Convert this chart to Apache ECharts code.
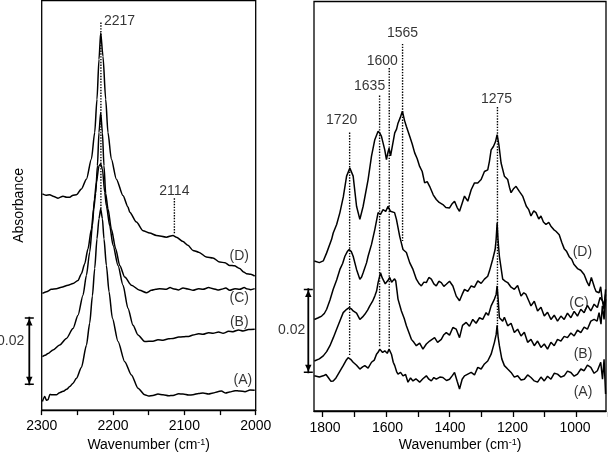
<!DOCTYPE html>
<html><head><meta charset="utf-8">
<script src="https://cdn.jsdelivr.net/npm/echarts/dist/echarts.min.js"></script>
<style>html,body{margin:0;padding:0;background:#fff}#c{width:608px;height:457px}</style>
</head><body><div id="c"></div>
<script>
// ---- Data (wavenumber cm-1, absorbance in units of 0.001) ----
const leftD = [[2299,63.4],[2294,63.0],[2288.8,63.1],[2283,62.6],[2277.1,62.1],[2270.1,62.7],[2265,62.4],[2260.7,62.4],[2256,63.0],[2251.4,63.1],[2244.3,64.8],[2237.3,67.7],[2230.3,73.6],[2225.7,81.4],[2222.5,91.1],[2219.7,102.8],[2217.3,110.6],[2214.1,103.7],[2210.3,91.1],[2207.1,81.4],[2202.4,73.6],[2195.3,67.7],[2186.1,62.9],[2179.0,59.5],[2176.6,58.0],[2167.2,55.1],[2158.0,52.6],[2148.6,51.9],[2139.2,51.2],[2125.2,50.7],[2115.9,51.2],[2111.2,50.7],[2101.9,49.4],[2095,48.3],[2087.9,46.8],[2080,46.3],[2069.2,44.9],[2060,44.6],[2050.5,43.4],[2043,43.2],[2036.5,42.4],[2030,42.3],[2022.5,41.5],[2017,40.5],[2013,40.0],[2007,39.8],[2001.4,39.3]];
const leftC = [[2299,34.2],[2293.4,34.7],[2286.4,35.4],[2279.4,35.6],[2272.4,36.0],[2263.1,36.6],[2256.1,37.1],[2249.1,38.0],[2244.3,40.0],[2239.7,42.9],[2235.1,47.3],[2230.3,53.1],[2227.1,59.0],[2224.3,63.5],[2221.9,71.6],[2219.7,81.4],[2217.3,87.2],[2214.9,81.4],[2212.7,71.6],[2210.3,63.5],[2207.1,59.0],[2202.3,53.1],[2196.3,47.3],[2190.6,42.4],[2183.6,39.0],[2174.2,36.6],[2162.6,35.1],[2153.2,34.4],[2146.2,35.1],[2140,35.4],[2134.6,35.6],[2125.2,35.4],[2120,35.9],[2115.9,35.6],[2108,35.2],[2101.9,35.8],[2095,35.5],[2087.9,35.1],[2080,35.6],[2073.9,35.4],[2066,35.9],[2059.8,35.6],[2053,35.2],[2048.1,35.4],[2042,35.8],[2036.5,35.1],[2029,35.6],[2022.5,35.4],[2016,35.9],[2013.0,35.6],[2007,35.3],[2001.4,35.6]];
const leftB = [[2299,15.7],[2295,16.1],[2291.2,16.6],[2284.2,17.6],[2274.8,19.1],[2265.4,21.0],[2256.1,23.9],[2249.1,27.8],[2242.1,33.7],[2237.3,39.5],[2232.7,46.3],[2228.9,54.1],[2226.1,61.9],[2223.3,66.8],[2219.7,71.6],[2217.3,72.1],[2214.9,70.7],[2211.7,63.9],[2209.3,59.9],[2204.7,54.1],[2200.0,48.3],[2193.0,42.4],[2186.0,36.6],[2179.0,29.8],[2172.0,24.9],[2165.0,22.0],[2155.6,20.1],[2144.0,20.2],[2137,20.6],[2129.9,20.5],[2122,20.9],[2115.9,21.0],[2108,21.4],[2101.9,21.5],[2094,21.6],[2087.9,22.0],[2080,22.4],[2073.9,22.2],[2066,22.7],[2059.8,22.5],[2052,22.9],[2045.8,22.5],[2038,23.1],[2031.8,23.0],[2024,23.5],[2017.8,23.2],[2010,23.6],[2001.4,23.7]];
const leftA = [[2299,2.5],[2295.8,4.0],[2293.5,2.9],[2291.2,3.0],[2288.5,4.6],[2286.4,4.5],[2279.4,4.5],[2275,5.1],[2270.1,5.5],[2265,6.1],[2260.7,6.9],[2256,7.9],[2251.4,9.3],[2244.3,12.5],[2237.3,19.0],[2232.7,25.5],[2228.9,33.5],[2225.7,41.5],[2222.5,50.2],[2219.7,56.1],[2217.3,59.0],[2214.9,56.1],[2212.7,50.2],[2209.3,42.4],[2205.6,34.7],[2200.9,26.9],[2193.0,20.1],[2183.6,14.2],[2174.2,10.3],[2165.0,6.4],[2155.6,4.5],[2150,4.1],[2144.0,4.3],[2137,4.7],[2129.9,4.5],[2122,4.2],[2115.9,4.3],[2108,4.8],[2101.9,4.7],[2094,4.4],[2087.9,4.5],[2080,4.9],[2073.9,5.0],[2066,4.7],[2059.8,5.0],[2053,5.4],[2048.1,5.6],[2042,5.0],[2036.5,5.3],[2029,5.7],[2022.5,5.6],[2015,5.4],[2008,5.9],[2001.4,5.8]];

const rightD = [[1825,35.4],[1810,35.0],[1798.2,35.4],[1788.0,37.3],[1773.1,40.5],[1768.3,42.0],[1758,44.0],[1748.2,46.8],[1738,50.5],[1728.1,55.4],[1718.3,57.3],[1708.4,55.4],[1698.2,48.3],[1688.3,45.2],[1678.4,48.3],[1663.5,54.6],[1653.3,60.1],[1643.4,64.0],[1633.5,66.0],[1628,65.5],[1623.4,64.8],[1613.5,61.6],[1608.4,59.3],[1604,61.0],[1600.6,62.0],[1596,60.2],[1593.4,60.5],[1583.5,65.6],[1578,66.5],[1573.7,67.9],[1567,69.2],[1560.5,70.7],[1554,68.5],[1548.5,67.1],[1543,66.8],[1538.6,64.8],[1531,63.0],[1523.6,60.9],[1516,59.5],[1508.7,57.7],[1501,56.5],[1493.7,53.8],[1486,54.1],[1478.7,53.0],[1468,51.0],[1458.7,49.9],[1450,49.2],[1438.9,48.7],[1430,48.0],[1418.9,47.9],[1411,48.9],[1403.9,49.5],[1396,48.0],[1388.9,47.1],[1381,49.0],[1374.0,50.7],[1364.1,49.5],[1353.9,52.2],[1344.0,53.8],[1334.1,53.8],[1324.0,54.6],[1314.1,56.5],[1304.2,56.9],[1299.1,58.9],[1294.0,61.6],[1287.1,62.4],[1281,63.5],[1276.0,65.2],[1270.7,62.8],[1264.1,58.5],[1254.2,55.4],[1244.3,54.6],[1239,52.8],[1234.1,51.5],[1226,52.5],[1219.2,53.0],[1209.3,51.8],[1199.4,50.7],[1188.3,48.3],[1181,47.5],[1174.3,46.0],[1166,47.2],[1159.3,46.8],[1151,45.3],[1144.3,46.0],[1137,44.6],[1129.3,44.0],[1121,44.5],[1114.4,43.6],[1106,42.8],[1099.4,42.4],[1089.5,41.6],[1082,39.8],[1074.6,38.3],[1067,37.6],[1059.6,36.4],[1052,35.8],[1045.5,34.6],[1034.7,33.6],[1025,33.2],[1014.7,32.2],[1005.7,30.4],[999.7,29.5],[993,31.5],[987.7,31.1],[983,29.0],[978.7,28.2],[969.8,27.9],[965,29.3],[960.8,26.4],[954.8,24.8],[950.3,27.5]];
const rightC = [[1825,21.6],[1813,22.0],[1803.0,22.4],[1795,23.0],[1788.0,24.0],[1778,26.2],[1768.3,28.7],[1758,30.9],[1748.2,33.4],[1740,34.8],[1733.2,36.5],[1726,37.6],[1720.4,38.1],[1714,37.6],[1708.4,36.5],[1698.2,33.4],[1688.3,31.1],[1683,31.6],[1678.4,32.6],[1668,35.0],[1663.5,36.5],[1653.3,39.3],[1643.4,42.8],[1633.5,46.8],[1626.3,46.4],[1618.6,47.5],[1610.5,47.1],[1603.6,48.3],[1596.4,47.1],[1590.4,47.5],[1584,46.8],[1578.4,45.2],[1568.6,41.2],[1558.7,38.1],[1548.5,37.4],[1538.6,35.0],[1528.7,33.4],[1518.6,31.1],[1510,30.0],[1503.6,29.5],[1496,30.4],[1488.6,30.3],[1481,31.5],[1473.6,31.1],[1466,30.0],[1458.7,29.5],[1451,30.6],[1443.7,30.3],[1436,29.4],[1428.7,29.9],[1418.9,30.6],[1408.9,29.5],[1398.8,27.1],[1388.9,26.0],[1381,27.5],[1374.0,28.7],[1364.1,28.2],[1353.9,29.5],[1344.0,29.2],[1334.1,30.7],[1324.0,30.1],[1314.1,31.1],[1304.2,31.8],[1299.1,33.0],[1289.2,35.8],[1282.0,38.1],[1279,40.5],[1276.0,44.4],[1273,40.0],[1269.2,36.5],[1259.3,31.1],[1251,30.6],[1244.3,30.3],[1234.1,29.2],[1224.3,28.7],[1214.4,29.6],[1204.2,27.1],[1196,27.9],[1189.2,27.5],[1181,26.0],[1174.3,24.8],[1164.4,25.9],[1154.5,23.6],[1144.3,24.5],[1134.4,22.4],[1124.6,23.3],[1114.4,21.6],[1104.5,22.6],[1094.6,21.2],[1084.4,22.4],[1074.6,21.6],[1064.7,23.1],[1054.5,22.0],[1044.6,23.5],[1034.7,22.4],[1024.6,24.0],[1014.7,23.2],[1004.8,24.9],[994.6,23.6],[984.7,25.2],[974.9,24.4],[966.7,26.8],[959.9,26.0],[954.8,24.0],[950.3,28.7]];
const rightB = [[1825,11.8],[1810,12.3],[1798.2,13.0],[1788,14.0],[1778.1,15.4],[1768,17.3],[1758.1,19.3],[1748,21.3],[1738.3,23.2],[1728,24.0],[1720.4,24.4],[1714,24.1],[1708.4,23.6],[1698.2,23.1],[1688.3,21.6],[1680,22.2],[1673.4,22.8],[1665,23.8],[1658.4,24.8],[1650,25.9],[1643.4,27.1],[1638,28.3],[1633.5,30.3],[1626.3,32.6],[1621,31.4],[1616.5,31.1],[1612,30.0],[1608.4,29.9],[1603,30.9],[1598.5,31.5],[1593,30.4],[1588.6,30.7],[1584,31.2],[1580.5,30.7],[1577,28.5],[1573.7,26.4],[1563.5,23.6],[1555,21.8],[1548.5,20.1],[1541,18.5],[1533.5,16.9],[1526,16.2],[1518.6,15.4],[1508.7,16.0],[1498.8,14.6],[1488.6,15.8],[1478.7,16.5],[1463.8,17.3],[1454.8,16.2],[1443.7,16.9],[1436,18.0],[1428.7,18.5],[1418.9,17.9],[1408.9,19.7],[1398.8,19.3],[1388.9,17.3],[1379.9,20.2],[1368.9,20.9],[1359.0,20.0],[1349.1,21.6],[1339.1,20.7],[1329.0,22.0],[1319.2,21.6],[1309.1,23.2],[1302.2,22.6],[1294.0,24.8],[1284.1,26.4],[1279,27.5],[1276.0,29.5],[1273,26.5],[1269.2,22.0],[1259.3,21.2],[1254.2,22.1],[1244.3,20.1],[1234.1,20.7],[1224.3,18.5],[1214.4,19.3],[1204.2,17.7],[1194.3,18.6],[1184.4,16.2],[1174.3,16.9],[1164.4,15.4],[1154.5,16.5],[1144.3,15.0],[1134.4,15.8],[1124.6,14.6],[1114.4,16.2],[1104.5,15.4],[1094.6,16.9],[1084.4,16.5],[1074.6,17.6],[1064.7,17.3],[1054.5,18.4],[1044.6,17.7],[1034.7,19.1],[1024.6,18.5],[1014.7,19.8],[1004.8,19.3],[994.6,21.2],[984.7,21.6],[975.7,21.2],[969.8,23.2],[964,20.5],[959.9,24.8],[954.8,21.6],[950.3,26.4]];
const rightA = [[1825,8.3],[1810,8.0],[1798.2,8.3],[1790,8.6],[1783.2,7.9],[1775,7.0],[1768.3,7.1],[1760,7.8],[1753.3,8.7],[1745,9.8],[1738.3,10.7],[1730,11.9],[1723.4,12.6],[1716,12.2],[1708.4,11.5],[1698.2,10.8],[1688.3,9.9],[1680,10.4],[1673.4,10.7],[1663.5,10.1],[1653.3,11.5],[1645,12.0],[1638.3,13.4],[1633,13.9],[1628.4,14.6],[1620,13.8],[1613.5,14.2],[1606,13.6],[1600.6,14.6],[1597,14.3],[1593.4,13.4],[1588,11.5],[1583.5,10.7],[1578,9.3],[1573.7,8.7],[1566,9.1],[1558.7,8.3],[1551,8.6],[1543.7,6.8],[1536,7.8],[1528.7,7.1],[1520,7.6],[1508.7,6.8],[1499,7.6],[1488.6,8.3],[1481,7.5],[1473.6,7.1],[1466,7.9],[1458.7,7.5],[1448,8.0],[1438.9,7.9],[1428,7.2],[1418.9,7.5],[1410,8.4],[1403.9,9.1],[1396,7.0],[1388.9,5.2],[1381,7.5],[1374.0,8.3],[1364,8.7],[1353.9,9.1],[1344.0,8.5],[1334.1,10.3],[1324.0,9.9],[1314.1,11.1],[1304.2,11.8],[1294.0,13.4],[1284.1,16.2],[1279,18.0],[1276.0,20.2],[1273,17.5],[1269.2,15.4],[1262,12.3],[1254.2,10.7],[1244.3,9.9],[1234.1,9.1],[1224.3,8.0],[1214.4,8.3],[1204.2,7.3],[1194.3,7.5],[1184.4,8.5],[1174.3,7.9],[1164.4,7.1],[1154.5,6.8],[1144.3,8.0],[1134.4,7.1],[1124.6,8.2],[1114.4,7.5],[1104.5,8.9],[1094.6,8.7],[1084.4,8.0],[1074.6,8.3],[1064.7,9.4],[1054.5,9.1],[1044.6,8.2],[1034.7,8.7],[1024.6,9.9],[1014.7,9.5],[1004.8,10.8],[994.6,10.3],[984.7,8.9],[974.9,9.5],[964.8,11.5],[959.5,7.5],[954.8,12.2],[950.3,4.0]];

const curveNames = ['(A)', '(B)', '(C)', '(D)'];
// peak markers: position (cm-1), label text, dotted-line top / bottom (absorbance x 0.001)
const leftPeakPos = [2217, 2114];
const leftPeakText = ['2217', '2114'];
const leftPeakTop = [113.6, 62.1];
const leftPeakBottom = [59.0, 51.6];
const rightPeakPos = [1719, 1629, 1600, 1560, 1275];
const rightPeakText = ['1720', '1635', '1600', '1565', '1275'];
const rightPeakTop = [65.7, 74.4, 80.9, 86.6, 71.7];
const rightPeakBottom = [13.0, 15.0, 15.0, 40.1, 19.8];
// axis ticks
const leftTickStep = 50;
const rightTickStep = 100;
const rightLabelStep = 200;
// scale bar: 0.02 absorbance
const scaleBarSize = 20;
const scaleBarText = '0.02';
const leftScaleBarStart = 7.7;
const rightScaleBarStart = 9.1;

// ---- Layout / style ----
const FONT = '"Liberation Sans", Arial, Helvetica, sans-serif';
const ink = '#000';
const leftCurveLabelAt = [[2018, 8.8], [2023, 25.7], [2023, 32.7], [2023, 45.2]];
const rightCurveLabelAt = [[1018, 4.4], [1018, 13.4], [1030, 25.4], [1020, 37.5]];
const leftPeakLabelStyle = [{position: 'right', distance: 3, offset: [0, -1]}, {position: 'top', distance: 0, offset: [0, 0]}];
const rightPeakLabelStyle = [[-8, -5], [-10, -2], [-7, 0], [0, -4], [-1, -1]].map(o => ({position: 'top', distance: 0, offset: o}));

const txt = {color: ink, fontSize: 14, fontFamily: FONT};
const axisName = {
  name: '{n|Wavenumber (cm}{s|-1}{n|)}',
  nameLocation: 'middle', nameGap: 27,
  nameTextStyle: {rich: {n: {fontSize: 14, fontFamily: FONT, color: ink}, s: {fontSize: 9, fontFamily: FONT, color: ink, verticalAlign: 'top'}}}
};

function curve(data, i, smooth) {
  return {type: 'line', xAxisIndex: i, yAxisIndex: i, data, symbol: 'none', smooth, smoothMonotone: 'x',
    lineStyle: {color: ink, width: 1.5}, silent: true, z: 3, animation: false};
}
function dotted(i, pos, top, bottom) {
  return {type: 'line', xAxisIndex: i, yAxisIndex: i, data: [[pos, top], [pos, bottom]], symbol: 'none',
    lineStyle: {color: ink, width: 1.4, type: [1.4, 1.4]}, silent: true, z: 4, animation: false};
}
function textPoints(xi, yi, items) {
  return {type: 'scatter', xAxisIndex: xi, yAxisIndex: yi, symbolSize: 0, silent: true, z: 5, animation: false,
    label: Object.assign({show: true, formatter: '{b}'}, txt), data: items};
}
const capPath = 'path://M0,0L10,0L10,1.6L0,1.6Z M5,1.6L8.6,9L1.4,9Z';
function scaleBar(i, start) {
  return {type: 'line', xAxisIndex: i, yAxisIndex: i, symbol: capPath, symbolSize: [9, 9], symbolKeepAspect: true,
    showSymbol: true, lineStyle: {color: ink, width: 1.8}, itemStyle: {color: ink}, silent: true, animation: false,
    data: [{value: [0.5, start], symbolRotate: 180, symbolOffset: [0, -4.5]}, {value: [0.5, start + scaleBarSize], symbolOffset: [0, 4.5]}]};
}

const series = [
  curve(leftA, 0, 0.25), curve(leftB, 0, 0.25), curve(leftC, 0, 0.25), curve(leftD, 0, 0.25),
  curve(rightA, 1, false), curve(rightB, 1, false), curve(rightC, 1, false), curve(rightD, 1, false),
  ...leftPeakPos.map((p, k) => dotted(0, p, leftPeakTop[k], leftPeakBottom[k])),
  ...rightPeakPos.map((p, k) => dotted(1, p, rightPeakTop[k], rightPeakBottom[k])),
  textPoints(0, 0, leftPeakPos.map((p, k) => ({name: leftPeakText[k], value: [p, leftPeakTop[k]], label: leftPeakLabelStyle[k]}))),
  textPoints(1, 1, rightPeakPos.map((p, k) => ({name: rightPeakText[k], value: [p, rightPeakTop[k]], label: rightPeakLabelStyle[k]}))),
  textPoints(0, 0, curveNames.map((n, k) => ({name: n, value: leftCurveLabelAt[k], label: {position: 'inside'}}))),
  textPoints(1, 1, curveNames.map((n, k) => ({name: n, value: rightCurveLabelAt[k], label: {position: 'inside'}}))),
  scaleBar(3, leftScaleBarStart), scaleBar(4, rightScaleBarStart),
  textPoints(3, 3, [{name: scaleBarText, value: [0.5, 20.7], label: {position: 'left', distance: 5}}]),
  textPoints(4, 4, [{name: scaleBarText, value: [0.5, 19.3], label: {position: 'left', distance: 3}}])
];

const hiddenY = {axisLine: {show: false}, axisTick: {show: false}, axisLabel: {show: false}, splitLine: {show: false}};
const axisLineStyle = {onZero: false, lineStyle: {color: ink, width: 1.3}};
const tickStyle = {show: true, length: 5, lineStyle: {color: ink, width: 1.3}};
const option = {
  animation: false,
  backgroundColor: '#fff',
  textStyle: {fontFamily: FONT},
  grid: [
    {left: 41.7, top: 0.7, width: 214, height: 411, show: true, borderColor: ink, borderWidth: 1.3, backgroundColor: 'transparent'},
    {left: 314, top: 1.5, width: 292, height: 410.5, show: true, borderColor: ink, borderWidth: 1.3, backgroundColor: 'transparent'},
    {left: 322.7, top: 1.5, width: 300.6, height: 410.5},
    {left: 25.3, top: 0.7, width: 8, height: 411},
    {left: 304.3, top: 1.5, width: 8, height: 410.5},
    {left: 325, top: 1.5, width: 250, height: 410.5}
  ],
  xAxis: [
    Object.assign({gridIndex: 0, type: 'value', position: 'bottom', min: 2000, max: 2300, interval: leftTickStep, inverse: true,
      axisLine: axisLineStyle, axisTick: tickStyle,
      axisLabel: Object.assign({margin: 9, formatter: v => (v % 100 === 0 ? String(v) : '')}, txt),
      splitLine: {show: false}}, axisName),
    Object.assign({gridIndex: 1, type: 'value', position: 'bottom', min: 949, max: 1826, inverse: true,
      axisLine: axisLineStyle, axisTick: {show: false}, axisLabel: {show: false},
      splitLine: {show: false}}, axisName),
    {gridIndex: 2, type: 'value', position: 'bottom', min: 900, max: 1800, interval: rightTickStep, inverse: true,
      axisLine: {show: false, onZero: false}, axisTick: tickStyle, axisLabel: {show: false}, splitLine: {show: false}},
    {gridIndex: 3, type: 'value', min: 0, max: 1, show: false},
    {gridIndex: 4, type: 'value', min: 0, max: 1, show: false},
    {gridIndex: 5, type: 'value', position: 'bottom', min: 1000, max: 1800, interval: rightLabelStep, inverse: true,
      axisLine: {show: false, onZero: false}, axisTick: {show: false},
      axisLabel: Object.assign({margin: 9, formatter: v => String(v)}, txt),
      splitLine: {show: false}}
  ],
  yAxis: [
    Object.assign({gridIndex: 0, type: 'value', min: 0, max: 120, name: 'Absorbance', nameLocation: 'middle', nameGap: 16, nameRotate: 90,
      nameTextStyle: txt}, hiddenY),
    Object.assign({gridIndex: 1, type: 'value', min: 0, max: 96.6}, hiddenY),
    {gridIndex: 2, type: 'value', min: 0, max: 96.6, show: false},
    {gridIndex: 3, type: 'value', min: 0, max: 120, show: false},
    {gridIndex: 4, type: 'value', min: 0, max: 96.6, show: false},
    {gridIndex: 5, type: 'value', min: 0, max: 96.6, show: false}
  ],
  series
};
const chart = echarts.init(document.getElementById('c'), null, {renderer: 'canvas', width: 608, height: 457});
chart.setOption(option);
</script></body></html>
